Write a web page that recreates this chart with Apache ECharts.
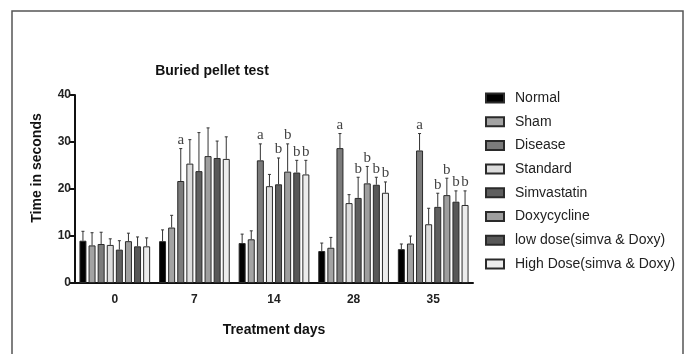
<!DOCTYPE html>
<html>
<head>
<meta charset="utf-8">
<script src="https://cdn.jsdelivr.net/npm/echarts@6/dist/echarts.min.js"></script>
<style>
  html, body { margin: 0; padding: 0; background: #fff; }
  #chart { width: 688px; height: 354px; }
</style>
</head>
<body>
<div id="chart"></div>
<script>
var days = ['0', '7', '14', '28', '35'];
var groups = ['Normal', 'Sham', 'Disease', 'Standard', 'Simvastatin', 'Doxycycline',
  'low dose(simva & Doxy)', 'High Dose(simva & Doxy)'];
var colors = ['#000000', '#a3a3a3', '#7b7b7b', '#dcdcdc', '#5f5f5f', '#9e9e9e', '#585858', '#ececec'];

// mean time (s) per group, one value per treatment day
var normal = [9.0, 8.9, 8.5, 6.8, 7.2];
var sham = [8.0, 11.8, 9.3, 7.5, 8.4];
var disease = [8.3, 21.7, 26.1, 28.7, 28.2];
var standard = [8.1, 25.4, 20.6, 17.0, 12.5];
var simva = [7.1, 23.8, 21.0, 18.1, 16.2];
var doxy = [8.9, 27.0, 23.7, 21.2, 18.7];
var lowDose = [7.8, 26.6, 23.5, 20.9, 17.3];
var highDose = [7.8, 26.4, 23.1, 19.2, 16.6];

// SD (upper error bar)
var normalSd = [2.0, 2.4, 1.9, 1.7, 1.1];
var shamSd = [2.7, 2.6, 1.8, 2.2, 1.6];
var diseaseSd = [2.5, 6.9, 3.5, 3.1, 3.6];
var standardSd = [1.3, 5.1, 2.5, 1.8, 3.4];
var simvaSd = [1.9, 8.2, 5.6, 4.4, 2.9];
var doxySd = [1.7, 6.0, 5.9, 3.6, 3.6];
var lowDoseSd = [2.0, 3.6, 2.6, 1.6, 2.3];
var highDoseSd = [1.8, 4.7, 3.0, 2.3, 3.0];

// significance letters
var none = ['', '', '', '', ''];
var diseaseSig = ['', 'a', 'a', 'a', 'a'];
var treatSig = ['', '', 'b', 'b', 'b'];

var means = [normal, sham, disease, standard, simva, doxy, lowDose, highDose];
var sds = [normalSd, shamSd, diseaseSd, standardSd, simvaSd, doxySd, lowDoseSd, highDoseSd];
var sigs = [none, none, diseaseSig, none, treatSig, treatSig, treatSig, treatSig];

var barW = 7;
var gapW = 2.1;

var series = [];
groups.forEach(function (name, i) {
  series.push({
    name: name,
    type: 'bar',
    barWidth: barW,
    barGap: '30%',
    data: means[i],
    itemStyle: { color: colors[i], borderColor: '#2a2a2a', borderWidth: 1 },
    z: 2
  });
});
groups.forEach(function (name, i) {
  var offset = (i - 3.5) * (barW + gapW);
  series.push({
    type: 'custom',
    z: 3,
    data: days.map(function (d, k) { return [k, means[i][k], sds[i][k]]; }),
    renderItem: function (params, api) {
      var k = api.value(0);
      var x = api.coord([k, 0])[0] + offset;
      var y0 = api.coord([k, api.value(1)])[1];
      var y1 = api.coord([k, api.value(1) + api.value(2)])[1];
      var st = { stroke: '#333', lineWidth: 1 };
      var kids = [
        { type: 'line', shape: { x1: x, y1: y0, x2: x, y2: y1 }, style: st },
        { type: 'line', shape: { x1: x - 1.5, y1: y1, x2: x + 1.5, y2: y1 }, style: st }
      ];
      var s = sigs[i][params.dataIndex];
      if (s) {
        kids.push({
          type: 'text',
          style: {
            text: s, x: x, y: y1 - 1, align: 'center', verticalAlign: 'bottom',
            font: '15px "Liberation Serif", serif', fill: '#444'
          }
        });
      }
      return { type: 'group', children: kids };
    }
  });
});

var chart = echarts.init(document.getElementById('chart'));
chart.setOption({
  animation: false,
  backgroundColor: '#fff',
  title: {
    text: 'Buried pellet test',
    left: 207, top: 59, textAlign: 'center',
    textStyle: { fontFamily: 'Liberation Sans', fontSize: 14, fontWeight: 'bold', color: '#111' }
  },
  graphic: [
    {
      type: 'rect', shape: { x: 12, y: 11, width: 671, height: 360 },
      style: { fill: 'none', stroke: '#555', lineWidth: 1.5 }, silent: true
    },
    {
      type: 'text', x: 37, y: 168, rotation: Math.PI / 2,
      style: {
        text: 'Time in seconds', align: 'center', verticalAlign: 'middle',
        font: 'bold 14px "Liberation Sans"', fill: '#111'
      }
    }
  ],
  legend: {
    orient: 'vertical',
    left: 480, top: 86,
    icon: 'rect',
    itemWidth: 18, itemHeight: 9, itemGap: 9.7,
    data: groups,
    textStyle: { fontFamily: 'Liberation Sans', fontSize: 14, color: '#222', padding: [0, 0, 0, 6] }
  },
  grid: { left: 75, right: 215, top: 95, bottom: 71 },
  xAxis: {
    type: 'category',
    data: days,
    name: 'Treatment days',
    nameLocation: 'middle',
    nameGap: 40,
    nameTextStyle: { fontFamily: 'Liberation Sans', fontSize: 14, fontWeight: 'bold', color: '#111' },
    axisLine: { lineStyle: { color: '#111', width: 2 } },
    axisTick: { alignWithLabel: true, length: 5, lineStyle: { width: 2, color: '#111' } },
    axisLabel: { fontFamily: 'Liberation Sans', fontSize: 12, fontWeight: 'bold', color: '#222', margin: 11 }
  },
  yAxis: {
    type: 'value',
    min: 0, max: 40, interval: 10,
    axisLine: { show: true, lineStyle: { color: '#111', width: 2 } },
    axisTick: { show: true, length: 5, lineStyle: { width: 2, color: '#111' } },
    splitLine: { show: false },
    axisLabel: { fontFamily: 'Liberation Sans', fontSize: 12, fontWeight: 'bold', color: '#222', margin: 4 }
  },
  series: series
});
</script>
</body>
</html>
